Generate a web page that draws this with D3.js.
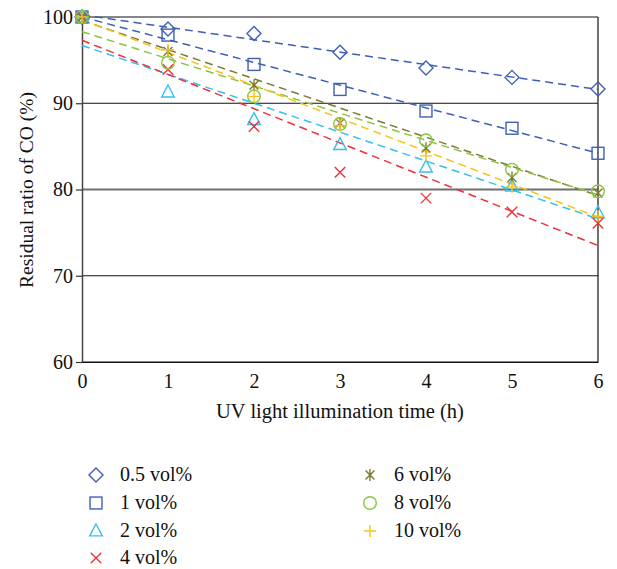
<!DOCTYPE html>
<html><head><meta charset="utf-8">
<script src="https://cdn.jsdelivr.net/npm/d3@7"></script>
<style>body{margin:0;background:#fff}svg{display:block}text{font-family:"Liberation Serif","DejaVu Serif",serif;fill:#111}</style>
</head><body><svg id="c" width="617" height="569"></svg>
<script>
const hours = [0, 1, 2, 3, 4, 5, 6];
const seriesNames = ["0.5 vol%", "1 vol%", "2 vol%", "4 vol%", "6 vol%", "8 vol%", "10 vol%"];
const v05 = [100, 98.6, 98.1, 95.9, 94.1, 93.0, 91.65];
const v1 = [100, 97.9, 94.5, 91.6, 89.1, 87.1, 84.2];
const v2 = [100, 91.3, 88.1, 85.2, 82.6, 80.4, 77.3];
const v4 = [100, 93.9, 87.3, 82.0, 79.0, 77.4, 76.1];
const v6 = [100, 96.0, 92.1, 87.7, 84.8, 81.4, 79.6];
const v8 = [100, 94.7, 90.8, 87.6, 85.7, 82.3, 79.8];
const v10 = [100, 96.2, 90.8, 87.4, 83.9, 80.3, 76.9];
// trend lines: value at 0 h and at 6 h
const fitStart = [100.25, 100.0, 96.7, 97.3, 99.6, 98.3, 99.7];
const fitEnd = [91.6, 84.2, 76.6, 73.5, 79.3, 79.4, 76.8];
const yTicks = [60, 70, 80, 90, 100];
const xTicks = [0, 1, 2, 3, 4, 5, 6];

const values = [v05, v1, v2, v4, v6, v8, v10];
const colors = ["#3f5fb5", "#3f5fb5", "#35c0ee", "#ee2f37", "#7b7a35", "#8cc43f", "#f7c21b"];
const shapes = ["diamond", "square", "triangle", "x", "asterisk", "circle", "plus"];

const svg = d3.select("#c");
const x = d3.scaleLinear().domain([0, 6]).range([82, 598]);
const y = d3.scaleLinear().domain([60, 100]).range([362, 17]);

// gridlines
const g = svg.append("g");
yTicks.forEach(t => {
  g.append("line").attr("x1", x(0)).attr("x2", x(6)).attr("y1", y(t)).attr("y2", y(t))
    .attr("stroke", t === 80 ? "#6e6e6e" : "#111").attr("stroke-width", t === 80 ? 1.8 : 1.2);
});
g.append("line").attr("x1", x(6)).attr("x2", x(6)).attr("y1", y(100)).attr("y2", y(60))
  .attr("stroke", "#111").attr("stroke-width", 1.2);

// y axis
const yAxis = d3.axisLeft(y).tickValues(yTicks).tickSize(6).tickSizeOuter(0).tickPadding(3);
const ya = svg.append("g").attr("transform", `translate(${x(0)},0)`).call(yAxis);
ya.select(".domain").attr("stroke", "#444").attr("stroke-width", 1.5);
ya.selectAll(".tick line").attr("stroke", "#333").attr("stroke-width", 1.2);
ya.selectAll("text").style("font-size", "20px").style("font-family", "Liberation Serif, serif").attr("fill", "#111");

// x axis
const xAxis = d3.axisBottom(x).tickValues(xTicks).tickFormat(d3.format("d")).tickSize(0).tickSizeOuter(0).tickPadding(12);
const xa = svg.append("g").attr("transform", `translate(0,${y(60)})`).call(xAxis);
xa.select(".domain").attr("stroke", "#111").attr("stroke-width", 1.2);
xa.selectAll("text").style("font-size", "20px").style("font-family", "Liberation Serif, serif").attr("fill", "#111");

svg.append("text").attr("x", 340).attr("y", 418).attr("text-anchor", "middle")
  .style("font-size", "20.5px").text("UV light illumination time (h)");
svg.append("text").attr("transform", "translate(33,190) rotate(-90)").attr("text-anchor", "middle")
  .style("font-size", "19.5px").text("Residual ratio of CO (%)");

// marker drawing
function marker(sel, shape, color, s) {
  const r = s;
  if (shape === "diamond") sel.append("path").attr("d", `M0,${-r}L${r},0L0,${r}L${-r},0Z`);
  else if (shape === "square") sel.append("rect").attr("x", -r * 0.85).attr("y", -r * 0.85).attr("width", r * 1.7).attr("height", r * 1.7);
  else if (shape === "triangle") sel.append("path").attr("d", `M0,${-r}L${r * 0.9},${r * 0.7}L${-r * 0.9},${r * 0.7}Z`);
  else if (shape === "circle") sel.append("circle").attr("r", r * 0.9);
  else if (shape === "x") { const a = r * 0.75; sel.append("path").attr("d", `M${-a},${-a}L${a},${a}M${-a},${a}L${a},${-a}`); }
  else if (shape === "plus") { const a = r * 0.85; sel.append("path").attr("d", `M${-a},0L${a},0M0,${-a}L0,${a}`); }
  else if (shape === "asterisk") { const a = r * 0.85; const b = a * 0.75; sel.append("path").attr("d", `M0,${-a}L0,${a}M${-b},${-b}L${b},${b}M${-b},${b}L${b},${-b}`); }
  sel.selectAll("*").attr("fill", "none").attr("stroke", color).attr("stroke-width", 1.4);
}

// trend lines
values.forEach((vals, i) => {
  svg.append("line").attr("x1", x(0)).attr("y1", y(fitStart[i])).attr("x2", x(6)).attr("y2", y(fitEnd[i]))
    .attr("stroke", colors[i]).attr("stroke-width", 1.5).attr("stroke-dasharray", "8,5");
});
// markers
values.forEach((vals, i) => {
  vals.forEach((v, j) => {
    const m = svg.append("g").attr("transform", `translate(${x(hours[j])},${y(v)})`);
    marker(m, shapes[i], colors[i], 7);
  });
});

// legend
const legPos = [[96, 475], [96, 503], [96, 531], [96, 558], [370, 475], [370, 503], [370, 531]];
seriesNames.forEach((n, i) => {
  const [lx, ly] = legPos[i];
  const m = svg.append("g").attr("transform", `translate(${lx},${ly})`);
  marker(m, shapes[i], colors[i], 7);
  svg.append("text").attr("x", lx + 24).attr("y", ly + 6).style("font-size", "20px").text(n);
});
</script></body></html>
